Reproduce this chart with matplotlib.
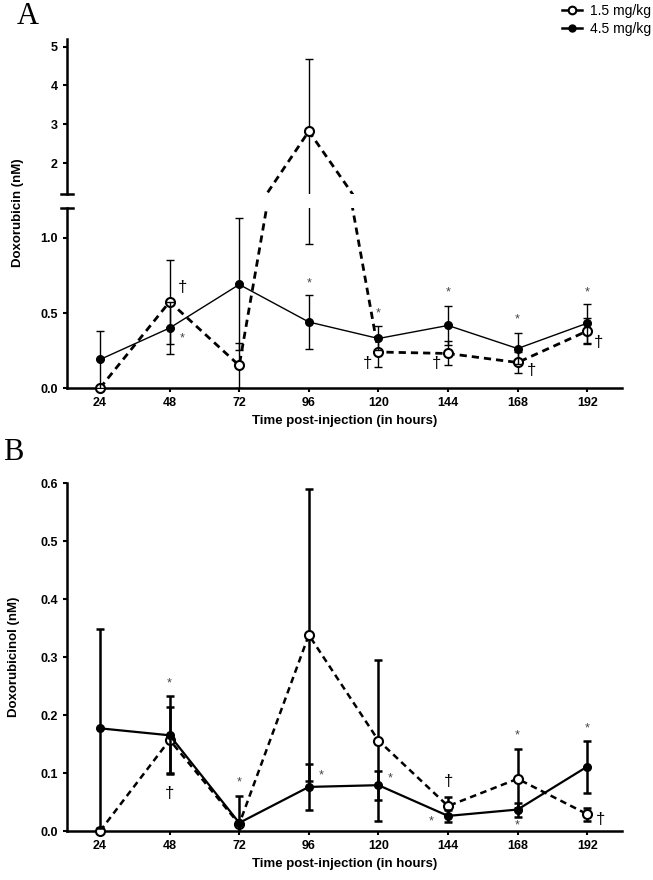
import matplotlib.pyplot as plt
import numpy as np
from matplotlib.lines import Line2D

plt.rcParams.update(
    {
        "font.family": "Liberation Sans",
        "font.size": 9,
        "axes.linewidth": 1.8,
        "xtick.major.width": 1.5,
        "ytick.major.width": 1.5,
        "xtick.major.size": 3,
        "ytick.major.size": 3,
        "xtick.color": "black",
        "ytick.color": "black",
    }
)

# Data
hours = [24, 48, 72, 96, 120, 144, 168, 192]

# Panel A: doxorubicin (nM)
dox_low = [0.0, 0.575, 0.15, 2.82, 0.24, 0.23, 0.17, 0.38]
dox_low_err = [0.0, 0.28, 0.15, 1.86, 0.10, 0.08, 0.07, 0.085]
dox_high = [0.19, 0.40, 0.69, 0.44, 0.33, 0.417, 0.263, 0.432]
dox_high_err = [0.19, 0.175, 0.44, 0.18, 0.08, 0.13, 0.105, 0.13]

# Panel B: doxorubicinol (nM)
dol_low = [0.0, 0.157, 0.012, 0.338, 0.156, 0.043, 0.09, 0.029]
dol_low_err = [0.0, 0.057, 0.0, 0.251, 0.138, 0.015, 0.051, 0.011]
dol_high = [0.177, 0.165, 0.014, 0.076, 0.079, 0.026, 0.037, 0.111]
dol_high_err = [0.172, 0.067, 0.047, 0.04, 0.025, 0.01, 0.012, 0.045]

# significance marks: (hour, value, symbol)
marks_a = [
    (52.3, 0.33, "*"), (96, 0.70, "*"), (120, 0.50, "*"), (144, 0.64, "*"),
    (168, 0.46, "*"), (192, 0.64, "*"),
    (52.3, 0.67, "\u2020"), (116.4, 0.165, "\u2020"), (139.9, 0.165, "\u2020"),
    (172.9, 0.12, "\u2020"), (196.0, 0.30, "\u2020"),
]
marks_b = [
    (48, 0.255, "*"), (72, 0.083, "*"), (100.2, 0.095, "*"), (124, 0.091, "*"),
    (138.2, 0.016, "*"), (168, 0.164, "*"), (168, 0.010, "*"), (192, 0.177, "*"),
    (48, 0.065, "\u2020"), (144, 0.085, "\u2020"), (196.5, 0.019, "\u2020"),
]

W, H = 653, 880
fig = plt.figure(figsize=(W / 100, H / 100), dpi=100)


def px_axes(left, right, top, bottom):
    return fig.add_axes([left / W, 1 - bottom / H, (right - left) / W, (bottom - top) / H])


ax_up = px_axes(67, 622, 39, 194)
ax_lo = px_axes(67, 622, 208, 388)
ax_b = px_axes(67, 622, 483, 831)

xlim = (12.6, 204)


def draw(ax, ylim, low, low_err, high, high_err, thin, elw, dash_lw):
    ax.set_ylim(*ylim)
    ax.errorbar(hours, low, yerr=low_err, fmt="none", ecolor="black",
                elinewidth=elw, capsize=3, capthick=elw, zorder=2)
    ax.plot(hours, low, ls=(0, (2.6, 1.8)), lw=dash_lw, color="black", zorder=3)
    ax.plot(hours, np.ma.masked_outside(low, *ylim), ls="none", marker="o",
            ms=6.5, mfc="white", mec="black", mew=1.5, zorder=3, clip_on=False)
    ax.errorbar(hours, high, yerr=high_err, fmt="none", ecolor="black",
                elinewidth=elw, capsize=3, capthick=elw, zorder=4)
    ax.plot(hours, high, "-", lw=thin, color="black", zorder=5)
    ax.plot(hours, np.ma.masked_outside(high, *ylim), ls="none", marker="o",
            ms=5.5, mfc="black", mec="black", zorder=5, clip_on=False)


# Panel A (broken axis)
draw(ax_up, (1.2, 5.2), dox_low, dox_low_err, dox_high, dox_high_err, 1.0, 1.0, 2.0)
draw(ax_lo, (0, 1.2), dox_low, dox_low_err, dox_high, dox_high_err, 1.0, 1.0, 2.0)
for ax in (ax_up, ax_lo):
    ax.set_xlim(*xlim)
    for s in ("top", "right"):
        ax.spines[s].set_visible(False)

ax_up.set_yticks([2, 3, 4, 5])
ax_up.set_yticklabels(["2", "3", "4", "5"], fontweight="bold")
ax_up.spines["bottom"].set_visible(False)
ax_up.set_xticks([])
ax_up.plot([-6 / 555, 6 / 555], [0, 0], transform=ax_up.transAxes,
           color="black", lw=1.8, clip_on=False)

ax_lo.set_yticks([0.0, 0.5, 1.0])
ax_lo.set_yticklabels(["0.0", "0.5", "1.0"], fontweight="bold")
ax_lo.set_xticks(hours)
ax_lo.set_xticklabels([str(h) for h in hours], fontweight="bold")
ax_lo.plot([-6 / 555, 6 / 555], [1, 1], transform=ax_lo.transAxes,
           color="black", lw=1.8, clip_on=False)
ax_lo.set_xlabel("Time post-injection (in hours)", fontsize=9.5,
                 fontweight="bold", labelpad=4)

for x, y, s in marks_a:
    if s == "*":
        ax_lo.text(x, y, s, ha="center", va="center", fontsize=9, color="#444444")
    else:
        ax_lo.text(x, y, s, ha="center", va="center", fontsize=12, color="black")

# Panel B
draw(ax_b, (0, 0.6), dol_low, dol_low_err, dol_high, dol_high_err, 1.6, 1.8, 1.8)
ax_b.set_xlim(*xlim)
for s in ("top", "right"):
    ax_b.spines[s].set_visible(False)
ax_b.set_yticks([0.0, 0.1, 0.2, 0.3, 0.4, 0.5, 0.6])
ax_b.set_yticklabels(["0.0", "0.1", "0.2", "0.3", "0.4", "0.5", "0.6"],
                     fontweight="bold")
ax_b.set_xticks(hours)
ax_b.set_xticklabels([str(h) for h in hours], fontweight="bold")
ax_b.set_xlabel("Time post-injection (in hours)", fontsize=9.5,
                fontweight="bold", labelpad=4)

for x, y, s in marks_b:
    if s == "*":
        ax_b.text(x, y, s, ha="center", va="center", fontsize=9, color="#444444")
    else:
        ax_b.text(x, y, s, ha="center", va="center", fontsize=12, color="black")

# y labels
fig.text(18 / W, 1 - 213 / H, "Doxorubicin (nM)", rotation=90, ha="center",
         va="center", fontsize=9.5, fontweight="bold")
fig.text(14 / W, 1 - 657 / H, "Doxorubicinol (nM)", rotation=90, ha="center",
         va="center", fontsize=9.5, fontweight="bold")

# panel letters
fig.text(28 / W, 1 - 17 / H, "A", family="Liberation Serif", fontsize=22,
         ha="center", va="center")
fig.text(13 / W, 1 - 452 / H, "B", family="Liberation Serif", fontsize=22,
         ha="center", va="center")

# legend
handles = [
    Line2D([0], [0], color="black", lw=1.8, marker="o", ms=5.5, mfc="white",
           mec="black", mew=1.5),
    Line2D([0], [0], color="black", lw=1.8, marker="o", ms=5, mfc="black",
           mec="black"),
]
fig.legend(handles, ["1.5 mg/kg", "4.5 mg/kg"], loc="upper left",
           bbox_to_anchor=(562 / W, 1 - 4 / H), frameon=False, fontsize=10,
           handlelength=1.45, handletextpad=0.6, labelspacing=0.3,
           borderpad=0, borderaxespad=0)

fig.savefig("out.png", dpi=100)
